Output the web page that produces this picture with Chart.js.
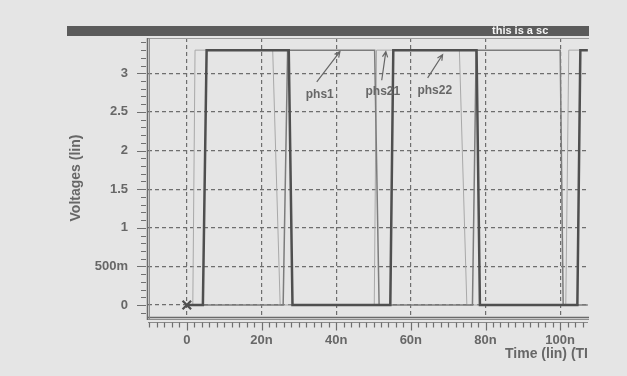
<!DOCTYPE html>
<html><head><meta charset="utf-8">
<script src="https://cdn.jsdelivr.net/npm/chart.js@4"></script>
<style>html,body{margin:0;padding:0;background:#e5e5e5;overflow:hidden}</style>
</head><body>
<canvas id="c" width="627" height="376"></canvas>
<script>
// ---- data ----
const xTickValues = [0, 20, 40, 60, 80, 100];
const xTickLabels = ['0', '20n', '40n', '60n', '80n', '100n'];
const yTickValues = [0, 0.5, 1, 1.5, 2, 2.5, 3];
const yTickLabels = ['0', '500m', '1', '1.5', '2', '2.5', '3'];

// time in ns, voltage in V
const phs22Time = [0, 4.3, 5.3, 27.3, 28.3, 54.5, 55.3, 77.6, 78.5, 104.6, 105.4, 107.4];
const phs22Volt = [0, 0, 3.3, 3.3, 0, 0, 3.3, 3.3, 0, 0, 3.3, 3.3];
const phs1Time  = [0, 25.8, 27.0, 50.3, 51.5, 76.5, 77.5, 100.0, 100.8, 107.4];
const phs1Volt  = [0, 0, 3.3, 3.3, 0, 0, 3.3, 3.3, 0, 0];
const phs21Time = [0, 1.6, 2.2, 23.0, 25.0, 50.2, 50.8, 73.0, 75.0, 101.5, 102.3, 107.4];
const phs21Volt = [0, 0, 3.3, 3.3, 0, 0, 3.3, 3.3, 0, 0, 3.3, 3.3];
const markerTime = [0];
const markerVolt = [0];

// signal name labels with arrows (data coordinates)
const noteText   = ['phs1', 'phs21', 'phs22'];
const noteLabelT = [35.6, 52.5, 66.4];
const noteLabelV = [2.72, 2.76, 2.78];
const noteTailT  = [34.8, 52.2, 64.5];
const noteTailV  = [2.89, 2.91, 2.94];
const noteTipT   = [41.0, 53.3, 68.5];
const noteTipV   = [3.28, 3.28, 3.24];

const bannerText = 'this is a sc';
const xTitle = 'Time (lin) (TI';
const yTitle = 'Voltages (lin)';

// ---- helpers ----
const pts = (t, v) => t.map((x, i) => ({x: x, y: v[i]}));
const FAM = '"Liberation Sans", Arial, sans-serif';
const TICKFONT = {family: FAM, size: 13, weight: 'bold'};
const TITLEFONT = {family: FAM, size: 14, weight: 'bold'};
const TXT = '#676767';

const decor = {
  id: 'decor',
  beforeDraw(chart) {
    const ctx = chart.ctx;
    ctx.save();
    ctx.fillStyle = '#e5e5e5';
    ctx.fillRect(0, 0, chart.width, chart.height);
    // dark title bar
    ctx.fillStyle = '#5b5b5b';
    ctx.fillRect(67, 26, 522, 10);
    ctx.fillStyle = '#f4f4f4';
    ctx.font = 'bold 11px ' + FAM;
    ctx.textAlign = 'left';
    ctx.textBaseline = 'middle';
    ctx.fillText(bannerText, 492, 30.5);
    ctx.restore();
  },
  afterDraw(chart) {
    const ctx = chart.ctx, ca = chart.chartArea;
    const xs = chart.scales.x, ys = chart.scales.y;
    ctx.save();
    // frame
    ctx.strokeStyle = '#9a9a9a'; ctx.lineWidth = 1;
    ctx.beginPath(); ctx.moveTo(ca.left, ca.top + 0.5); ctx.lineTo(ca.right + 1, ca.top + 0.5); ctx.stroke();
    ctx.strokeStyle = '#6a6a6a'; ctx.lineWidth = 1.5;
    ctx.beginPath();
    ctx.moveTo(ca.left - 0.5, ca.top); ctx.lineTo(ca.left - 0.5, ca.bottom + 2);
    ctx.moveTo(ca.left - 1, ca.bottom - 0.5); ctx.lineTo(ca.right + 1, ca.bottom - 0.5);
    ctx.stroke();
    ctx.strokeStyle = '#8e8e8e'; ctx.lineWidth = 1;
    ctx.beginPath();
    ctx.moveTo(ca.left + 1.5, ca.top); ctx.lineTo(ca.left + 1.5, ca.bottom + 1.5);
    ctx.moveTo(ca.left, ca.bottom + 1.5); ctx.lineTo(ca.right + 1, ca.bottom + 1.5);
    ctx.stroke();
    // y ruler ticks (every 0.1 V)
    ctx.strokeStyle = '#707070'; ctx.lineWidth = 1.2;
    ctx.beginPath();
    for (let k = -1; k <= 34; k++) {
      const v = k / 10, p = Math.round(ys.getPixelForValue(v)) + 0.5;
      if (p < ca.top || p > ca.bottom) continue;
      const major = k % 5 === 0;
      ctx.moveTo(ca.left - (major ? 11 : 7), p); ctx.lineTo(ca.left - 2, p);
    }
    ctx.stroke();
    // x ruler ticks (every 2 ns)
    const y0 = ca.bottom + 4.5;
    ctx.strokeStyle = '#8a8a8a'; ctx.lineWidth = 1;
    ctx.beginPath(); ctx.moveTo(ca.left, y0); ctx.lineTo(ca.right, y0); ctx.stroke();
    ctx.strokeStyle = '#6e6e6e'; ctx.lineWidth = 1.2;
    ctx.beginPath();
    for (let t = -10; t <= 106; t += 2) {
      const p = Math.round(xs.getPixelForValue(t)) + 0.5;
      if (p < ca.left || p > ca.right) continue;
      const major = t % 20 === 0;
      ctx.moveTo(p, y0); ctx.lineTo(p, y0 + (major ? 8 : 5));
    }
    ctx.stroke();
    // signal labels + arrows
    ctx.fillStyle = TXT;
    ctx.font = 'bold 12px ' + FAM;
    ctx.textAlign = 'center'; ctx.textBaseline = 'middle';
    ctx.strokeStyle = '#666'; ctx.lineWidth = 1.2;
    noteText.forEach((txt, i) => {
      ctx.fillText(txt, xs.getPixelForValue(noteLabelT[i]), ys.getPixelForValue(noteLabelV[i]));
      const x1 = xs.getPixelForValue(noteTailT[i]), y1 = ys.getPixelForValue(noteTailV[i]);
      const x2 = xs.getPixelForValue(noteTipT[i]), y2 = ys.getPixelForValue(noteTipV[i]);
      const a = Math.atan2(y2 - y1, x2 - x1), h = 6;
      ctx.beginPath();
      ctx.moveTo(x1, y1); ctx.lineTo(x2, y2);
      ctx.moveTo(x2 - h * Math.cos(a - 0.45), y2 - h * Math.sin(a - 0.45));
      ctx.lineTo(x2, y2);
      ctx.lineTo(x2 - h * Math.cos(a + 0.45), y2 - h * Math.sin(a + 0.45));
      ctx.stroke();
    });
    ctx.restore();
  }
};

new Chart(document.getElementById('c'), {
  type: 'line',
  data: {
    datasets: [
      {label: 'marker', data: pts(markerTime, markerVolt), showLine: false,
       pointStyle: 'crossRot', pointRadius: 6, borderColor: '#505050', borderWidth: 2.2},
      {label: 'phs22', data: pts(phs22Time, phs22Volt), borderColor: '#4f4f4f', borderWidth: 2.5},
      {label: 'phs1', data: pts(phs1Time, phs1Volt), borderColor: '#7c7c7c', borderWidth: 1.5},
      {label: 'phs21', data: pts(phs21Time, phs21Volt), borderColor: '#a9a9a9', borderWidth: 1}
    ]
  },
  options: {
    responsive: false, animation: false, devicePixelRatio: 1,
    layout: {padding: {left: 0, right: 39, top: 38, bottom: 0}},
    plugins: {legend: {display: false}, tooltip: {enabled: false}},
    elements: {point: {radius: 0}, line: {tension: 0, fill: false}},
    scales: {
      x: {
        type: 'linear', min: -10.4, max: 107.45, bounds: 'data',
        afterBuildTicks: s => { s.ticks = xTickValues.map(v => ({value: v})); },
        afterFit: s => { s.height = 58; },
        ticks: {callback: v => xTickLabels[xTickValues.indexOf(v)], padding: 14.5,
                font: TICKFONT, color: TXT, maxRotation: 0, autoSkip: false},
        grid: {color: '#6e6e6e', lineWidth: 1.2, drawTicks: false},
        border: {display: false, dash: [4, 3]},
        title: {display: true, text: xTitle, align: 'end', padding: {top: 0, bottom: 13.5},
                font: TITLEFONT, color: TXT}
      },
      y: {
        type: 'linear', min: -0.168, max: 3.457, bounds: 'data',
        afterBuildTicks: s => { s.ticks = yTickValues.map(v => ({value: v})); },
        afterFit: s => { s.width = 148; },
        ticks: {callback: v => yTickLabels[yTickValues.indexOf(v)], padding: 20,
                font: TICKFONT, color: TXT, autoSkip: false},
        grid: {color: '#6e6e6e', lineWidth: 1.2, drawTicks: false},
        border: {display: false, dash: [4, 3]},
        title: {display: true, text: yTitle, padding: {top: 67.5, bottom: 0},
                font: TITLEFONT, color: TXT}
      }
    }
  },
  plugins: [decor]
});
</script>
</body></html>
